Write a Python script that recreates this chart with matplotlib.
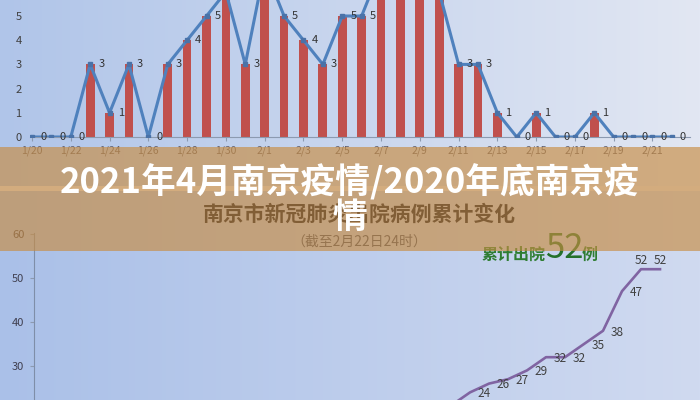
import numpy as np
import matplotlib.pyplot as plt
from matplotlib.patches import Rectangle

plt.rcParams['font.family'] = ['Noto Sans CJK SC', 'DejaVu Sans']

# Daily values, top chart (values above 5 are cut off by the picture, estimated)
dates = ['1/20', '1/21', '1/22', '1/23', '1/24', '1/25', '1/26', '1/27', '1/28',
         '1/29', '1/30', '1/31', '2/1', '2/2', '2/3', '2/4', '2/5', '2/6', '2/7',
         '2/8', '2/9', '2/10', '2/11', '2/12', '2/13', '2/14', '2/15', '2/16',
         '2/17', '2/18', '2/19', '2/20', '2/21', '2/22']
daily = [0, 0, 0, 3, 1, 3, 0, 3, 4, 5, 6, 3, 7, 5, 4, 3, 5, 5, 7, 8, 7, 6,
         3, 3, 1, 0, 1, 0, 0, 1, 0, 0, 0, 0]

# Cumulative discharged cases, bottom chart (visible part)
cum_dates = ['2/10', '2/11', '2/12', '2/13', '2/14', '2/15', '2/16', '2/17',
             '2/18', '2/19', '2/20', '2/21', '2/22']
cum_values = [18, 21, 24, 26, 27, 29, 32, 32, 35, 38, 47, 52, 52]

W, H = 700, 400
fig = plt.figure(figsize=(7, 4), dpi=100)


def fx(px):
    return px / W


def fy(py):
    return 1 - py / H


# Background: two screenshots with a light gradient and a thin gap
bg = fig.add_axes([0, 0, 1, 1], zorder=-5)
t = np.linspace(0, 1, W)[None, :, None]
top_l, top_r = np.array([176, 197, 233]), np.array([226, 231, 243])
bot_l, bot_r = np.array([170, 192, 232]), np.array([208, 218, 240])
img = np.zeros((H, W, 3))
img[:186] = top_l + (top_r - top_l) * t
img[186:191] = [232, 234, 240]
img[191:] = bot_l + (bot_r - bot_l) * t
bg.imshow(img / 255, aspect='auto', extent=[0, 1, 0, 1], interpolation='bilinear')
bg.set_axis_off()

# Top chart: daily bars and line
ax1 = fig.add_axes([fx(30), fy(137), fx(660), 137 / H], zorder=1)
ax1.patch.set_alpha(0)
x = np.arange(len(dates))
ax1.bar(x, daily, width=0.45, color='#c0504d', zorder=2)
ax1.plot(x, daily, color='#4f81bd', lw=2.2, marker='s', ms=3.5,
         mfc='#4a72a8', mec='#4a72a8', zorder=3)
for xi, v in zip(x, daily):
    ax1.annotate(str(v), (xi, v), xytext=(8, 0), textcoords='offset points',
                 ha='center', va='center', fontsize=8, color='#333333',
                 annotation_clip=True, zorder=4)
ax1.set_xlim(-2 / 19.39, 658 / 19.39)
ax1.set_ylim(0, 137 / 24.2)
ax1.set_yticks(range(0, 6))
ax1.set_xticks(x[::2])
ax1.set_xticklabels(dates[::2])
ax1.tick_params(axis='y', length=0, pad=6, labelsize=8, labelcolor='#404040')
ax1.tick_params(axis='x', length=3, pad=3, labelsize=7.5, color='#8c9ab0',
                labelcolor='#606070')
for s in ['top', 'right', 'left']:
    ax1.spines[s].set_visible(False)
ax1.spines['bottom'].set_color('#8c9ab0')

# Bottom chart: cumulative line
ax2 = fig.add_axes([fx(34), 0, fx(666), 167 / H], zorder=1)
ax2.patch.set_alpha(0)
cx = [dates.index(d) for d in cum_dates]
ax2.plot(cx, cum_values, color='#8064a2', lw=1.9, zorder=3)
for i, (xi, v) in enumerate(zip(cx, cum_values)):
    off = (0, 6) if i >= len(cum_values) - 2 else (10, -1)
    ax2.annotate(str(v), (xi, v), xytext=off, textcoords='offset points',
                 ha='center', va='center', fontsize=8.5, color='#404040',
                 annotation_clip=True)
ax2.set_xlim(1 / 19, 667 / 19)
ax2.set_ylim(50 - 122 / 4.4, 50 + 45 / 4.4)
ax2.set_yticks([30, 40, 50, 60])
ax2.set_xticks([])
ax2.tick_params(axis='y', length=3, pad=4, labelsize=8, labelcolor='#404050',
                color='#8c9ab0')
for s in ['top', 'right', 'bottom']:
    ax2.spines[s].set_visible(False)
ax2.spines['left'].set_color('#7f8ea8')

# Bottom chart heading (under the banner)
fig.text(fx(359), fy(214), '南京市新冠肺炎出院病例累计变化', ha='center', va='center',
         fontsize=15, fontweight='bold', color='#000a24', zorder=2)
fig.text(fx(359), fy(242), '（截至2月22日24时）', ha='center', va='center',
         fontsize=10, color='#3a4868', zorder=2)
fig.text(fx(546), fy(255), '累计出院', ha='right', va='center', fontsize=11.5,
         fontweight='bold', color='#2e7d32', zorder=2)
fig.text(fx(564), fy(248), '52', ha='center', va='center', fontsize=25,
         color='#24702a', zorder=2)
fig.text(fx(582), fy(255), '例', ha='left', va='center', fontsize=11.5,
         fontweight='bold', color='#2e7d32', zorder=2)

# Semi-transparent banner with the headline
fig.add_artist(Rectangle((0, fy(251)), 1, (251 - 147) / H, transform=fig.transFigure,
                         facecolor=(200 / 255, 140 / 255, 65 / 255), alpha=0.65,
                         edgecolor='none', zorder=5))
fig.text(0.5, fy(182), '2021年4月南京疫情/2020年底南京疫', ha='center', va='center',
         fontsize=25, fontweight='bold', color='white', zorder=10)
fig.text(0.5, fy(217), '情', ha='center', va='center',
         fontsize=25, fontweight='bold', color='white', zorder=10)

fig.savefig('out.png', dpi=100)
